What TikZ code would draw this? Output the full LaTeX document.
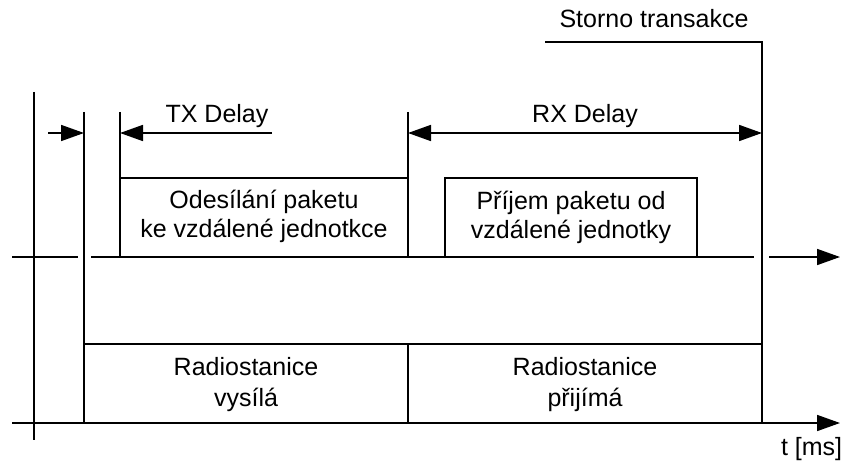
\documentclass[tikz,border=0pt]{standalone}
\usepackage{fontspec}
\setmainfont{Liberation Sans}
\usetikzlibrary{arrows.meta}
\begin{document}
\begin{tikzpicture}[x=1pt,y=-1pt]
        \tikzstyle{every path}=[line width=1.7pt];
        \tikzstyle{tip}=[-{Triangle[length=23pt,width=16pt]}];
        \tikzstyle{both}=[{Triangle[length=23pt,width=16pt]}-{Triangle[length=23pt,width=16pt]}];
        \tikzstyle{txt}=[font=\fontsize{25}{29}\selectfont,align=center,inner sep=0pt,anchor=base];
        \useasboundingbox (0,0) rectangle (845,468);
        % time marks
        \coordinate (m0) at (34,92);   \coordinate (m0b) at (34,440);
        \coordinate (m1) at (84,112);  \coordinate (m1b) at (84,423);
        \coordinate (m2) at (120,112); \coordinate (m2b) at (120,257);
        \coordinate (m3) at (408,112); \coordinate (m3b) at (408,257);
        \coordinate (m4) at (762,42);  \coordinate (m4b) at (762,423);
        \coordinate (st) at (545,42);
        \draw (m0)--(m0b) (m1)--(m1b) (m2)--(m2b) (m3)--(m3b) (st)--(m4)--(m4b);
        % delays
        \coordinate (a0) at (48,133);  \coordinate (a1) at (84,133);
        \coordinate (a2) at (272,133); \coordinate (a3) at (120,133);
        \coordinate (a4) at (408,133); \coordinate (a5) at (762,133);
        \draw[tip] (a0)--(a1);
        \draw[tip] (a2)--(a3);
        \draw[both] (a4)--(a5);
        \node[txt] (txd) at (217,122) {TX Delay};
        \node[txt] (rxd) at (585,122) {RX Delay};
        \node[txt] (sto) at (654,28) {Storno transakce};
        % upper time line
        \coordinate (u0) at (12,257);  \coordinate (u1) at (78,257);
        \coordinate (u2) at (91,257);  \coordinate (u3) at (754,257);
        \coordinate (u4) at (769,257); \coordinate (u5) at (840,257);
        \draw (u0)--(u1) (u2)--(u3);
        \draw[tip] (u4)--(u5);
        % packets
        \coordinate (p0) at (120,178); \coordinate (p1) at (408,178);
        \draw (p0)--(p1);
        \node[txt] (odes) at (264,237) {Odesílání paketu\\ke vzdálené jednotkce};
        \draw (445,257) rectangle (697,178);
        \node[txt] (prij) at (571,238) {Příjem paketu od\\vzdálené jednotky};
        % radio station
        \coordinate (r0) at (84,344);  \coordinate (r1) at (762,344);
        \coordinate (r2) at (408,344); \coordinate (r3) at (408,423);
        \draw (r0)--(r1) (r2)--(r3);
        \node[txt,font=\fontsize{25}{31}\selectfont] (vys) at (246,406) {Radiostanice\\vysílá};
        \node[txt,font=\fontsize{25}{31}\selectfont] (pri) at (585,406) {Radiostanice\\přijímá};
        % time axis
        \coordinate (t0) at (12,423);  \coordinate (t1) at (840,423);
        \draw[tip] (t0)--(t1);
        \node[txt,anchor=base east] (tms) at (843,455) {t [ms]};
    \end{tikzpicture}
\end{document}
